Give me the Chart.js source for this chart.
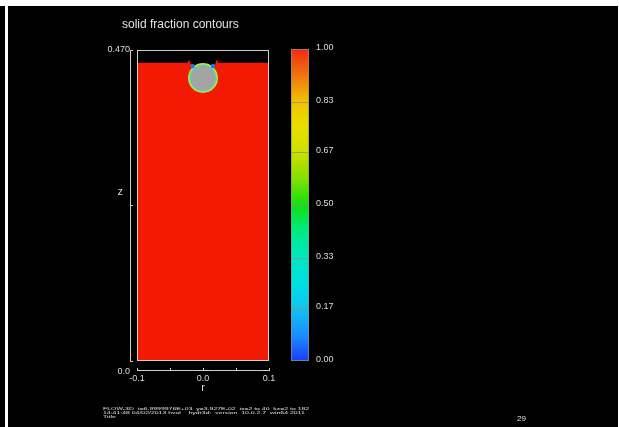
<!DOCTYPE html>
<html>
<head>
<meta charset="utf-8">
<script src="https://cdn.jsdelivr.net/npm/chart.js@4.4.0/dist/chart.umd.min.js"></script>
<style>
  html, body { margin: 0; padding: 0; background: #fff; overflow: hidden; }
  #edge { position: absolute; left: 0; top: 6px; width: 5px; height: 421px; background: #000; }
  #frame { position: absolute; left: 8px; top: 6px; width: 610px; height: 421px; background: #000; }
  canvas { position: absolute; top: 0; }
  .txt { position: absolute; color: #e2e2e2; font-family: 'Liberation Sans', Arial, sans-serif; white-space: pre; }
  #footer { left: 103px; top: 407px; font-size: 6.9px; line-height: 6px; transform: scaleY(0.62); transform-origin: 0 0; }
</style>
</head>
<body>
<div id="edge"></div>
<div id="frame"></div>
<canvas id="plot" width="619" height="427" style="left:0"></canvas>
<canvas id="bar" width="100" height="427" style="left:280px"></canvas>
<div class="txt" style="left:122px; top:17px; font-size:12px; line-height:14px">solid fraction contours</div>
<div class="txt" id="footer">FLOW-3D  t=6.9999976E+03  y=3.927E-02  ix=2 to 40  kz=2 to 182
14:41:48 04/02/2013 hval    hydr3d:  version  10.0.2.7  win64 2011
Title</div>
<div class="txt" style="left:517px; top:414px; font-size:8px; line-height:10px">29</div>
<script>
// domain of the plot (r across, z up)
const rRange = [-0.1, 0.1]
const zRange = [0, 0.47]
const rTicks = [-0.1, -0.05, 0, 0.05, 0.1]
const rTickLabels = ['-0.1', '', '0.0', '', '0.1']
const zTicks = [0, 0.235, 0.47]
const zTickLabels = [['', '', '0.0'], '', '0.470']

// top edge of the solid region (red), with the two little horns beside the sphere
const surfaceR = [-0.1, -0.0235, -0.021, -0.0185, -0.016, 0.016, 0.0185, 0.021, 0.0235, 0.1]
const surfaceZ = [0.4508, 0.4508, 0.4555, 0.449, 0.44, 0.44, 0.449, 0.4555, 0.4508, 0.4508]

// the sphere sitting in the surface
const sphereR = [0]
const sphereZ = [0.4277]
// small liquid pockets next to it
const pocketR = [-0.0158, 0.0152]
const pocketZ = [0.4458, 0.4458]

// colour bar levels
const barTicks = [0, 0.17, 0.33, 0.5, 0.67, 0.83, 1.0]
const colorStops = [
  [0.0, '#1a3cff'], [0.08, '#1a8cff'], [0.17, '#10c4f0'], [0.25, '#00e0e0'],
  [0.33, '#00e8c0'], [0.42, '#00e880'], [0.5, '#10e010'], [0.58, '#80e000'],
  [0.67, '#cce000'], [0.75, '#e8e000'], [0.83, '#f0c400'], [0.92, '#f07010'],
  [1.0, '#f02a10'],
]

const textColor = '#dcdcdc'
const axisColor = '#cfcfcf'
Chart.defaults.font.family = "'Liberation Sans', Arial, sans-serif"
Chart.defaults.color = textColor

const toPoints = (xs, ys) => xs.map((x, i) => ({ x: x, y: ys[i] }))

// white frame around the domain
const domainBox = {
  id: 'domainBox',
  afterDatasetsDraw(chart) {
    const { ctx, chartArea: a } = chart
    ctx.save()
    ctx.strokeStyle = axisColor
    ctx.lineWidth = 1
    ctx.strokeRect(a.left + 0.5, a.top + 0.5, a.right - a.left - 1, a.bottom - a.top - 1)
    ctx.restore()
  },
}

new Chart(document.getElementById('plot'), {
  type: 'scatter',
  data: {
    datasets: [
      {
        type: 'line',
        data: toPoints(surfaceR, surfaceZ),
        fill: 'origin',
        backgroundColor: '#f31a04',
        borderColor: 'rgba(0,0,0,0)',
        pointRadius: 0,
        tension: 0,
        order: 5,
      },
      { data: toPoints(sphereR, sphereZ), pointRadius: 15, backgroundColor: '#c4e428', borderWidth: 0, order: 4 },
      { data: toPoints(sphereR, sphereZ), pointRadius: 13.6, backgroundColor: '#3ce4c4', borderWidth: 0, order: 3 },
      { data: toPoints(sphereR, sphereZ), pointRadius: 12.4, backgroundColor: '#a4a4a4', borderWidth: 0, order: 2 },
      { data: toPoints(pocketR, pocketZ), pointRadius: 2.2, backgroundColor: '#2f6fe8', borderWidth: 0, order: 1 },
    ],
  },
  options: {
    responsive: false,
    animation: false,
    layout: { padding: { left: 137, right: 350, top: 50, bottom: 66 } },
    plugins: { legend: { display: false }, tooltip: { enabled: false } },
    scales: {
      x: {
        type: 'linear',
        min: rRange[0],
        max: rRange[1],
        position: { y: -0.0151 },
        afterBuildTicks: (s) => { s.ticks = rTicks.map((v) => ({ value: v })) },
        grid: { drawOnChartArea: false, tickLength: -3, color: axisColor },
        border: { color: axisColor },
        ticks: { padding: 5, autoSkip: false, maxRotation: 0, font: { size: 9 }, callback: (v, i) => rTickLabels[i] },
      },
      y: {
        type: 'linear',
        min: zRange[0],
        max: zRange[1],
        position: { x: -0.1106 },
        afterBuildTicks: (s) => { s.ticks = zTicks.map((v) => ({ value: v })) },
        grid: { drawOnChartArea: false, tickLength: -3, color: axisColor },
        border: { color: axisColor },
        ticks: { padding: 0, autoSkip: false, font: { size: 9 }, callback: (v, i) => zTickLabels[i] },
      },
      // axis names
      xTitle: {
        axis: 'x',
        type: 'linear',
        min: rRange[0],
        max: rRange[1],
        position: { y: -0.0308 },
        afterBuildTicks: (s) => { s.ticks = [{ value: 0 }] },
        grid: { display: false, drawTicks: false },
        border: { display: false },
        ticks: { padding: 0, font: { size: 11 }, callback: () => 'r' },
      },
      yTitle: {
        axis: 'y',
        type: 'linear',
        min: zRange[0],
        max: zRange[1],
        position: { x: -0.1212 },
        afterBuildTicks: (s) => { s.ticks = [{ value: 0.255 }] },
        grid: { display: false, drawTicks: false },
        border: { display: false },
        ticks: { padding: 0, font: { size: 11 }, callback: () => 'z' },
      },
    },
  },
  plugins: [domainBox],
})

// colour bar
function barGradient(chart) {
  const a = chart.chartArea
  if (!a) return null
  const g = chart.ctx.createLinearGradient(0, a.bottom, 0, a.top)
  colorStops.forEach(([p, c]) => g.addColorStop(p, c))
  return g
}

const segments = barTicks.slice(1).map((t, i) => t - barTicks[i])

new Chart(document.getElementById('bar'), {
  type: 'bar',
  data: {
    labels: ['solid fraction'],
    datasets: segments.map((s, i) => ({
      data: [s],
      backgroundColor: (ctx) => barGradient(ctx.chart),
      borderColor: 'rgba(235,235,235,0.6)',
      borderWidth: { top: 1, left: 1, right: 1, bottom: i === 0 ? 1 : 0 },
      borderSkipped: false,
      barPercentage: 1,
      categoryPercentage: 1,
    })),
  },
  options: {
    responsive: false,
    animation: false,
    layout: { padding: { left: 11, right: 31, top: 49, bottom: 66 } },
    plugins: { legend: { display: false }, tooltip: { enabled: false } },
    scales: {
      x: { stacked: true, display: false },
      y: {
        stacked: true,
        position: 'right',
        min: 0,
        max: 1,
        afterFit: (s) => { s.width = 40 },
        afterBuildTicks: (s) => { s.ticks = barTicks.map((v) => ({ value: v })) },
        grid: { display: false, drawTicks: false },
        border: { display: false },
        ticks: { padding: 7, labelOffset: -1.5, font: { size: 9 }, callback: (v) => v.toFixed(2) },
      },
    },
  },
})
</script>
</body>
</html>
